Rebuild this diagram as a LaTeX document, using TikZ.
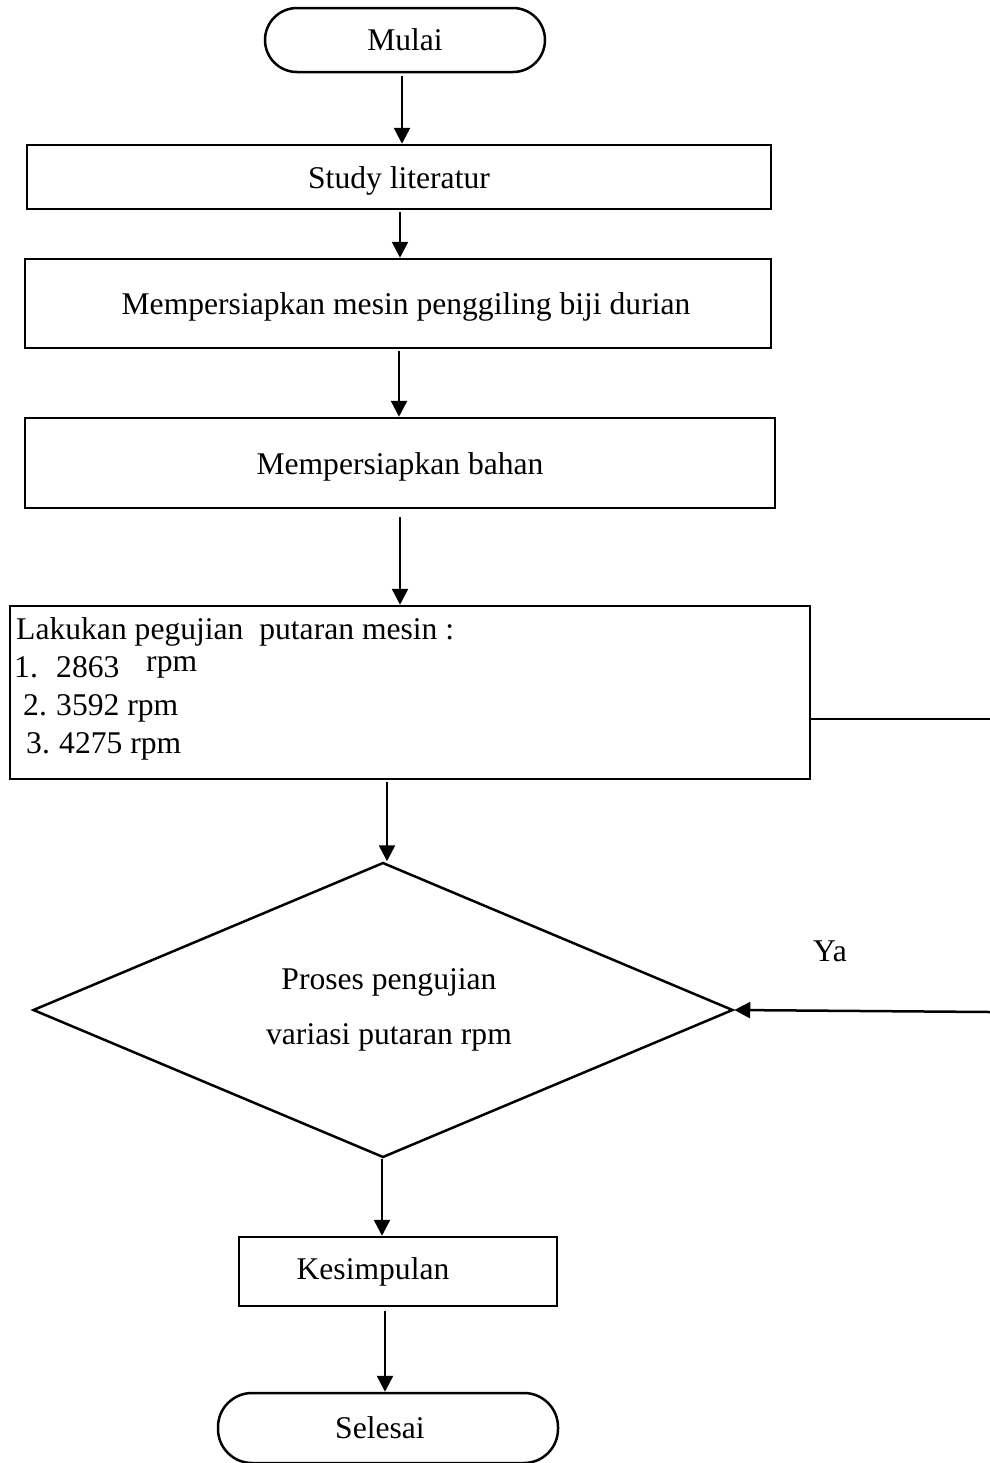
\documentclass[tikz,border=0pt]{standalone}
\usepackage{fontspec}
\setmainfont{Liberation Serif}
\usetikzlibrary{shapes.geometric,arrows.meta}
\begin{document}
\begin{tikzpicture}[x=0.5pt,y=-0.5pt, line width=1.25pt,
  every node/.style={font=\fontsize{15.8}{18.9}\selectfont},
  box/.style={draw, rectangle, inner sep=0pt},
  term/.style={draw, rectangle, inner sep=0pt},
  arr/.style={-{Triangle[length=8pt,width=8pt]}}]
\useasboundingbox (0,0) rectangle (990,1463);

% terminals and process boxes
\node[term, rounded corners=16pt, minimum width=140pt, minimum height=32pt,
      text height=12.5pt, text depth=2pt] (mulai) at (405,40) {Mulai};
\node[box, minimum width=372pt, minimum height=32pt,
      text height=13.5pt, text depth=2pt] (study) at (399,177) {Study literatur};
\node[box, minimum width=373pt, minimum height=44.5pt,
      text height=13pt, text depth=2pt] (mesin) at (398,303.5) {\hspace*{8pt}Mempersiapkan mesin penggiling biji durian};
\node[box, minimum width=375pt, minimum height=45pt,
      text height=13.5pt, text depth=2pt] (bahan) at (400,463) {Mempersiapkan bahan};
\node[box, minimum width=400pt, minimum height=86.5pt] (rpm) at (410,692.5) {};
\node[anchor=north west, align=left, inner sep=0pt,
      font=\fontsize{15.8}{19}\selectfont] (rpmtext) at (13,616)
  {\hspace*{1pt}Lakukan pegujian\ \ putaran mesin :\\
   \makebox[21pt][l]{1.}\makebox[45pt][l]{2863}\raisebox{3pt}{rpm}\\
   \hspace*{4.5pt}\makebox[16.5pt][l]{2.}3592 rpm\\
   \hspace*{6pt}\makebox[16.5pt][l]{3.}4275 rpm};
\node[draw, diamond, aspect=2.37, inner sep=0pt, minimum width=350pt, minimum height=147.5pt,
      align=center] (dia) at (383,1010)
  {\hspace*{6pt}Proses pengujian\\[8.4pt]\hspace*{6pt}variasi putaran rpm};
\node[box, minimum width=159pt, minimum height=34.5pt] (kes) at (398,1271.5) {Kesimpulan\hspace*{25pt}};
\node[term, rounded corners=17pt, minimum width=170pt, minimum height=35pt] (sel) at (388,1428) {Selesai\hspace*{8pt}};
\node (ya) at (830,951) {Ya};

% connectors
\draw[arr] (mulai.south) ++(-3,3) coordinate (m0) -- (m0 |- study.north);
\draw[arr] (study.south) ++(1,2) coordinate (s0) -- (s0 |- mesin.north);
\draw[arr] (mesin.south) ++(1,2) coordinate (t0) -- (t0 |- bahan.north);
\draw[arr] (bahan.south) ++(0,8) coordinate (b0) -- (b0 |- rpm.north);
\draw[arr] (dia.north |- rpm.south) ++(4,2) coordinate (r0) -- (r0 |- dia.north);
\draw[arr] (dia.south) ++(-1,0) coordinate (d0) -- (d0 |- kes.north);
\draw[arr] (kes.south) ++(-13,4) coordinate (k0) -- (k0 |- sel.north);
\coordinate (e1) at (990,719);
\draw (e1 -| rpm.east) -- (e1);
\coordinate (e2) at (990,1012);
\draw[arr] (e2) -- (dia.east);
\end{tikzpicture}
\end{document}
